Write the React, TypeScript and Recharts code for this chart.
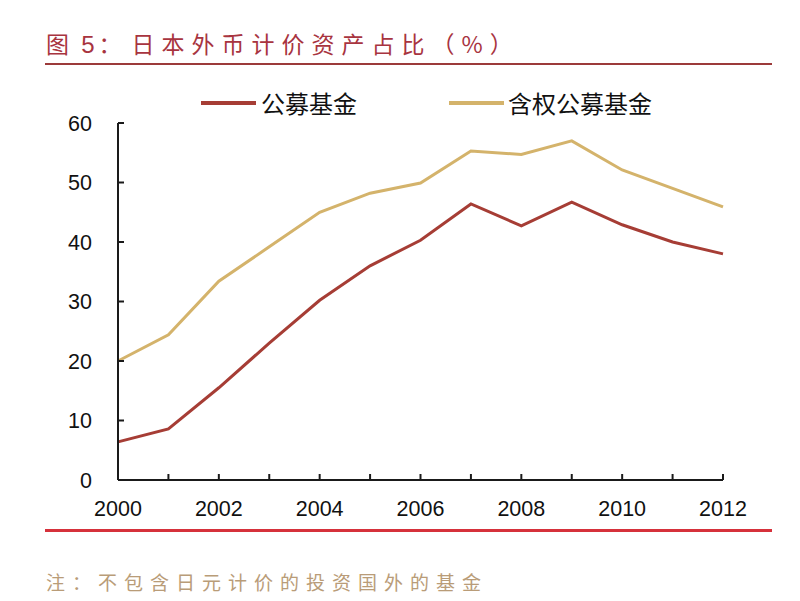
import React from 'react';
import { LineChart, Line, XAxis, YAxis } from 'recharts';

const years = [2000, 2001, 2002, 2003, 2004, 2005, 2006, 2007, 2008, 2009, 2010, 2011, 2012];
const publicFunds = [6.4, 8.6, 15.5, 23.0, 30.2, 36.0, 40.3, 46.4, 42.7, 46.7, 42.9, 40.0, 38.0];
const equityFunds = [20.0, 24.4, 33.4, 39.2, 45.0, 48.2, 49.9, 55.3, 54.7, 57.0, 52.1, 49.0, 45.9];
const yTicks = [0, 10, 20, 30, 40, 50, 60];
const xLabelYears = [2000, 2002, 2004, 2006, 2008, 2010, 2012];

const titlePrefix = '图';
const titleNumber = '5：';
const titleBody = '日本外币计价资产占比（%）';
const noteText = '注：不包含日元计价的投资国外的基金';

const seriesList = [
  { key: 'publicFunds', name: '公募基金', color: '#a63d35' },
  { key: 'equityFunds', name: '含权公募基金', color: '#d4b36b' },
];

const data = years.map((year, i) => ({
  year,
  publicFunds: publicFunds[i],
  equityFunds: equityFunds[i],
}));

const FONT = 'Arial, "Liberation Sans", sans-serif';
const CJK = '"Noto Sans CJK SC", "Noto Sans", sans-serif';

const X_MARGIN = 28;
const Y_MARGIN = 26;

const XTick = (props: any) => {
  const { x, y, payload } = props;
  const axisY = y - X_MARGIN;
  const show = xLabelYears.includes(payload.value);
  return (
    <g>
      <line x1={x} y1={axisY} x2={x} y2={axisY - 6} stroke="#1a1a1a" strokeWidth={2} />
      {show && (
        <text x={x} y={y} dy="0.36em" textAnchor="middle" fontFamily={FONT} fontSize={21.5} fill="#111">
          {payload.value}
        </text>
      )}
    </g>
  );
};

const YTick = (props: any) => {
  const { x, y, payload } = props;
  const axisX = x + Y_MARGIN;
  return (
    <g>
      <line x1={axisX} y1={y} x2={axisX + 6} y2={y} stroke="#1a1a1a" strokeWidth={2} />
      <text x={x} y={y} dy="0.36em" textAnchor="end" fontFamily={FONT} fontSize={21.5} fill="#111">
        {payload.value}
      </text>
    </g>
  );
};

const legendPos = [
  { lineX: 201, textX: 261 },
  { lineX: 449, textX: 508 },
];

export default function App() {
  return (
    <div style={{ position: 'absolute', left: 0, top: 0, width: 800, height: 601, background: '#fff', overflow: 'hidden' }}>
      <div
        style={{
          position: 'absolute',
          left: 46,
          top: 27,
          fontFamily: CJK,
          fontSize: 23,
          letterSpacing: 7,
          color: '#a8343f',
          whiteSpace: 'pre',
          lineHeight: '32px',
        }}
      >
        {titlePrefix}
        <span style={{ letterSpacing: 0 }}> </span>
        <span style={{ fontFamily: FONT, fontSize: 24, letterSpacing: 4 }}>{titleNumber.slice(0, 1)}</span>
        <span style={{ letterSpacing: 10 }}>{titleNumber.slice(1)}</span>
        {titleBody}
      </div>
      <div style={{ position: 'absolute', left: 45, top: 63, width: 727, height: 2, background: '#9c3a3a' }} />

      {seriesList.map((s, i) => (
        <div key={s.key}>
          <div style={{ position: 'absolute', left: legendPos[i].lineX, top: 101, width: 55, height: 4, background: s.color }} />
          <div
            style={{
              position: 'absolute',
              left: legendPos[i].textX,
              top: 87,
              fontFamily: CJK,
              fontSize: 24,
              color: '#111',
              lineHeight: '32px',
              whiteSpace: 'nowrap',
            }}
          >
            {s.name}
          </div>
        </div>
      ))}

      <div style={{ position: 'absolute', left: 0, top: 0 }}>
        <LineChart width={800} height={601} data={data} margin={{ top: 123, right: 77, bottom: 91, left: 58 }}>
          <XAxis
            dataKey="year"
            type="number"
            domain={[2000, 2012]}
            ticks={years}
            interval={0}
            height={30}
            tickSize={0}
            tickMargin={X_MARGIN}
            tick={<XTick />}
            axisLine={{ stroke: '#1a1a1a', strokeWidth: 2 }}
            tickLine={false}
          />
          <YAxis
            type="number"
            domain={[0, 60]}
            ticks={yTicks}
            interval={0}
            width={60}
            tickSize={0}
            tickMargin={Y_MARGIN}
            tick={<YTick />}
            axisLine={{ stroke: '#1a1a1a', strokeWidth: 2 }}
            tickLine={false}
          />
          {seriesList.map((s) => (
            <Line
              key={s.key}
              type="linear"
              dataKey={s.key}
              name={s.name}
              stroke={s.color}
              strokeWidth={3}
              dot={false}
              activeDot={false}
              isAnimationActive={false}
            />
          ))}
        </LineChart>
      </div>

      <div style={{ position: 'absolute', left: 45, top: 529, width: 727, height: 3, background: '#d6313b' }} />
      <div
        style={{
          position: 'absolute',
          left: 46,
          top: 568,
          fontFamily: CJK,
          fontSize: 19,
          letterSpacing: 7,
          color: '#b99c78',
          lineHeight: '28px',
          whiteSpace: 'nowrap',
        }}
      >
        {noteText}
      </div>
    </div>
  );
}
